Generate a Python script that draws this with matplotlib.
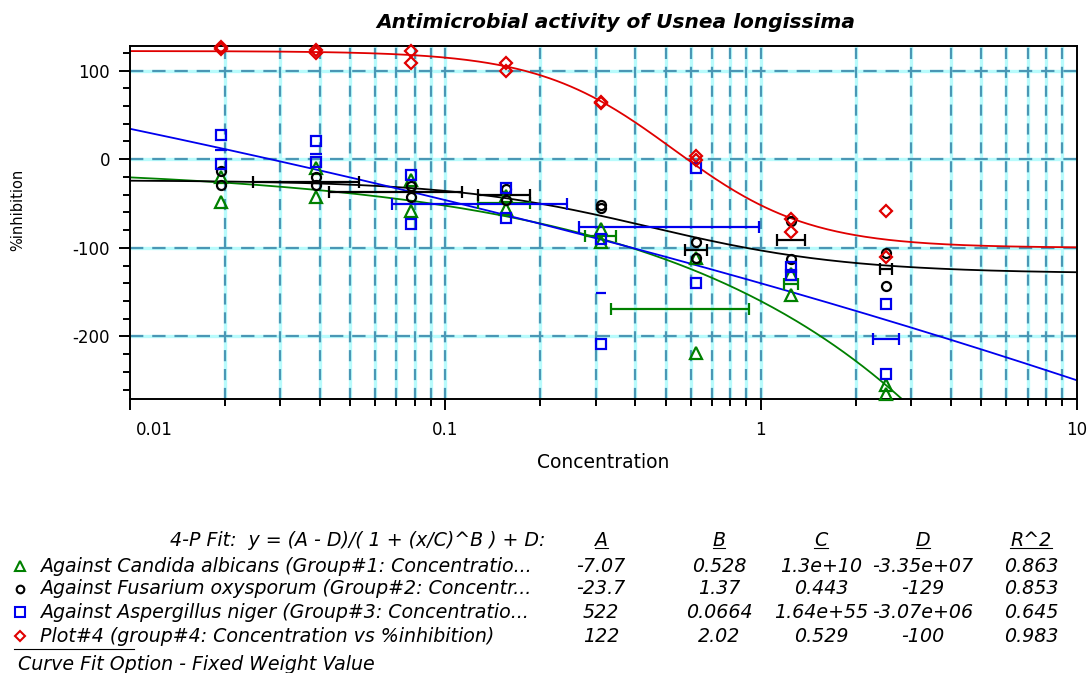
import numpy as np
import matplotlib
matplotlib.use('Agg')
import matplotlib.pyplot as plt
import matplotlib.transforms as mtransforms
from matplotlib.lines import Line2D
from matplotlib.ticker import LogLocator, NullFormatter, FixedLocator

plt.rcParams['font.family'] = ['DejaVu Sans']
plt.rcParams['axes.unicode_minus'] = False

# concentrations (x) for the replicate points
conc = [0.0195, 0.039, 0.078, 0.156, 0.3125, 0.625, 1.25, 2.5]

# replicate %inhibition values, two per concentration
candida_r1 = [-20, -10, -24, -42, -79, -111, -130, -255]
candida_r2 = [-48, -43, -58, -56, -93, -219, -153, -265]
fusarium_r1 = [-13, -20, -30, -34, -52, -93, -70, -106]
fusarium_r2 = [-29, -29, -43, -46, -55, -111, -113, -143]
aspergillus_r1 = [27, 21, -18, -33, -90, -10, -122, -163]
aspergillus_r2 = [-5, -3, -73, -66, -208, -140, -131, -242]
plot4_r1 = [127, 123, 122, 109, 65, 4, -68, -58]
plot4_r2 = [124, 120, 109, 100, 63, -1, -82, -110]

# horizontal error bars as drawn by the software (x, y, half width)
candida_eb_x = [0.156, 0.3125, 0.625, 1.25]
candida_eb_y = [-49, -87, -169, -141]
candida_eb_w = [0.029, 0.036, 0.29, 0.064]
fusarium_eb_x = [0.039, 0.078, 0.156, 0.625, 1.25, 2.5]
fusarium_eb_y = [-26, -37, -40, -103, -91, -124]
fusarium_eb_w = [0.0143, 0.0353, 0.029, 0.05, 0.128, 0.11]
aspergillus_eb_x = [0.156, 0.625, 2.5]
aspergillus_eb_y = [-51, -76, -203]
aspergillus_eb_w = [0.088, 0.36, 0.24]
aspergillus_small_x = [0.0195, 0.039, 0.3125]
aspergillus_small_y = [10, 6, -151]
aspergillus_small_w = [0.0008, 0.0016, 0.011]

# 4-P fit parameters from the table
fit_A = [-7.07, -23.7, 522, 122]
fit_B = [0.528, 1.37, 0.0664, 2.02]
fit_C = [1.3e10, 0.443, 1.64e55, 0.529]
fit_D = [-3.35e7, -129, -3.07e6, -100]
fit_R2 = [0.863, 0.853, 0.645, 0.983]

names = ['Against Candida albicans (Group#1: Concentratio...',
         'Against Fusarium oxysporum (Group#2: Concentr...',
         'Against Aspergillus niger (Group#3: Concentratio...',
         'Plot#4 (group#4: Concentration vs %inhibition)']
colors = ['#008000', 'black', '#0000ee', '#e00000']
markers = ['^', 'o', 's', 'D']
msizes = [8.5, 6.5, 7.5, 6.5]

W, H = 1089, 673
fig = plt.figure(figsize=(W / 100, H / 100), dpi=100)
ax = fig.add_axes([129.5 / W, 1 - 398.5 / H, (1076.5 - 129.5) / W, (398.5 - 45.7) / H])
ax.set_xscale('log')
ax.set_xlim(0.01, 10)
ax.set_ylim(-270, 128)

# grid: light cyan under dark teal dashes
xgrid = [k * 10.0 ** e for e in (-2, -1, 0) for k in range(1, 10)][1:]
for xv in xgrid:
    ax.axvline(xv, color='#b8fbfc', lw=2.4, zorder=0.5)
    ax.axvline(xv, color='#4a97b5', lw=1.6, ls=(0, (5, 3.5)), zorder=0.6)
for yv in [100, 0, -100, -200]:
    ax.axhline(yv, color='#b8fbfc', lw=2.4, zorder=0.5)
    ax.axhline(yv, color='#4a97b5', lw=1.6, ls=(0, (6, 4)), zorder=0.6)

# fitted curves
xs = np.logspace(-2, 1, 400)
for i in range(4):
    ys = (fit_A[i] - fit_D[i]) / (1 + (xs / fit_C[i]) ** fit_B[i]) + fit_D[i]
    ax.plot(xs, ys, color=colors[i], lw=1.3, zorder=2)

# error bars
eb = [(candida_eb_x, candida_eb_y, candida_eb_w, colors[0]),
      (fusarium_eb_x, fusarium_eb_y, fusarium_eb_w, colors[1]),
      (aspergillus_eb_x, aspergillus_eb_y, aspergillus_eb_w, colors[2])]
for x, y, w, c in eb:
    ax.errorbar(x, y, xerr=w, fmt='none', ecolor=c, elinewidth=1.6,
                capsize=4, capthick=1.6, zorder=3)
ax.errorbar(aspergillus_small_x, aspergillus_small_y, xerr=aspergillus_small_w,
            fmt='none', ecolor=colors[2], elinewidth=1.6, capsize=0, zorder=3)

# replicate points
reps = [(candida_r1, candida_r2), (fusarium_r1, fusarium_r2),
        (aspergillus_r1, aspergillus_r2), (plot4_r1, plot4_r2)]
for i, (r1, r2) in enumerate(reps):
    for r in (r1, r2):
        ax.plot(conc, r, ls='none', marker=markers[i], ms=msizes[i],
                mfc='none', mec=colors[i], mew=1.6, zorder=4, clip_on=False)

# axes styling
ax.set_yticks([100, 0, -100, -200])
ax.set_yticklabels(['100', '0', '-100', '-200'])
ax.yaxis.set_minor_locator(FixedLocator(list(range(-260, 121, 20))))
ax.set_xticks([0.01, 0.1, 1, 10])
ax.set_xticklabels(['0.01', '0.1', '1', '10'])
ax.xaxis.set_minor_locator(LogLocator(base=10, subs=range(2, 10)))
ax.xaxis.set_minor_formatter(NullFormatter())
ax.tick_params(which='major', direction='out', length=8, width=1.4, labelsize=12)
ax.tick_params(axis='x', which='major', pad=8)
ax.tick_params(axis='y', which='major', pad=6)
ax.tick_params(which='minor', direction='out', length=5, width=1.4)
for s in ax.spines.values():
    s.set_linewidth(1.4)

# first x label sits to the right of the axis corner
lbl0 = ax.get_xticklabels()[0]
lbl0.set_transform(lbl0.get_transform() +
                   mtransforms.ScaledTranslation(0.25, 0, fig.dpi_scale_trans))

fig.text(616 / W, 1 - 22 / H, 'Antimicrobial activity of Usnea longissima',
         ha='center', va='center', fontsize=14.5, fontweight='bold', style='italic')
fig.text(603 / W, 1 - 462 / H, 'Concentration', ha='center', va='center', fontsize=13.5)
fig.text(18 / W, 1 - 210 / H, '%inhibition', ha='center', va='center',
         fontsize=10.5, rotation=90)

# fit table below the chart
fs = 13.7
row_y = [566, 589, 612, 636]
fig.text(545 / W, 1 - 540 / H, '4-P Fit:  y = (A - D)/( 1 + (x/C)^B ) + D:',
         ha='right', va='center', fontsize=fs, style='italic')
col_x = [601, 719, 821, 923, 1031]
col_hdr = ['A', 'B', 'C', 'D', 'R^2']
hdr_texts = []
for cx, h in zip(col_x, col_hdr):
    hdr_texts.append(fig.text(cx / W, 1 - 540 / H, h, ha='center', va='center',
                              fontsize=fs, style='italic'))
cols = [fit_A, fit_B, fit_C, fit_D, fit_R2]
for j, vals in enumerate(cols):
    for k, v in enumerate(vals):
        fig.text(col_x[j] / W, 1 - row_y[k] / H, '%.3g' % v, ha='center',
                 va='center', fontsize=fs, style='italic')
for k in range(4):
    fig.add_artist(Line2D([20 / W], [1 - row_y[k] / H], marker=markers[k],
                          ms=msizes[k] - 1, mfc='none', mec=colors[k], mew=1.5,
                          transform=fig.transFigure))
    fig.text(40 / W, 1 - row_y[k] / H, names[k], ha='left', va='center',
             fontsize=fs, style='italic')

fig.add_artist(Line2D([14 / W, 134 / W], [1 - 649 / H, 1 - 649 / H], color='black',
                      lw=0.8, transform=fig.transFigure))
fig.text(18 / W, 1 - 664 / H, 'Curve Fit Option - Fixed Weight Value',
         ha='left', va='center', fontsize=fs, style='italic')

# underline the column headers
fig.canvas.draw()
r = fig.canvas.get_renderer()
for t in hdr_texts:
    bb = t.get_window_extent(r).transformed(fig.transFigure.inverted())
    fig.add_artist(Line2D([bb.x0, bb.x1], [bb.y0 + 0.002, bb.y0 + 0.002],
                          color='black', lw=0.8, transform=fig.transFigure))

fig.savefig('out.png', dpi=100)
